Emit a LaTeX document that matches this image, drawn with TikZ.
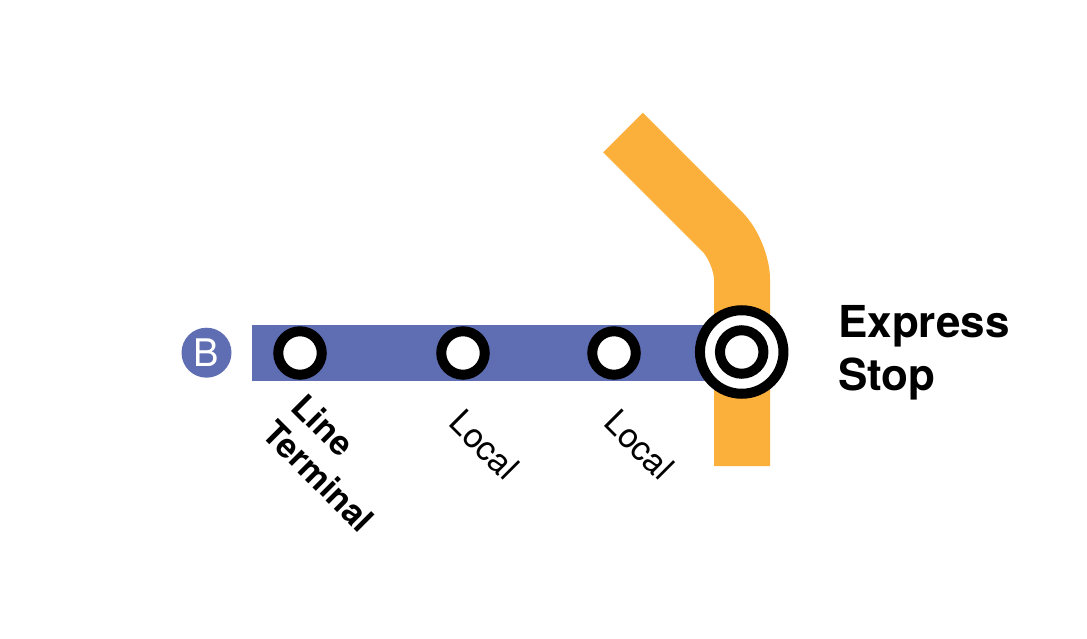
\documentclass[tikz,border=0pt]{standalone}
\usepackage{fontspec}
\setmainfont{TeX Gyre Heros}
\definecolor{lineblue}{HTML}{5F6EB3}
\definecolor{lineorange}{HTML}{FBB03B}
\tikzset{
  track/.style={line width=56pt,line cap=butt},
  ring/.style={circle,draw=black,fill=white,line width=10pt,minimum size=43.5pt,inner sep=0pt},
  lbl/.style={rotate=-45,inner sep=0pt,font=\fontsize{34}{34}\selectfont},
  blbl/.style={align=left,inner sep=0pt,font=\fontsize{44}{53}\selectfont\bfseries},
}
\begin{document}
\begin{tikzpicture}[x=1pt,y=-1pt]
\useasboundingbox (0,0) rectangle (1087,639);
\draw[track,lineorange,rounded corners=28pt] (623,132.5) -- (742,251.5) -- (742,466);
\draw[track,lineblue] (252,353) -- (725,353);
\node[circle,fill=lineblue,minimum size=50pt,inner sep=0pt,text=white,font=\fontsize{38}{38}\selectfont] (b) at (206.5,352.7) {B};
\node[ring] (s1) at (300,353) {};
\node[ring] (s2) at (463,353) {};
\node[ring] (s3) at (614,353) {};
\node[circle,draw=black,fill=white,line width=10pt,minimum size=83.5pt,inner sep=0pt] (e1) at (741.7,352) {};
\node[ring] (e2) at (741.7,352) {};
\node[lbl,font=\fontsize{34}{34}\selectfont\bfseries] (l1) at (323.5,425) {Line};
\node[lbl,font=\fontsize{34}{34}\selectfont\bfseries] (l2) at (319,476) {Terminal};
\node[lbl] (l3) at (484.5,445) {Local};
\node[lbl] (l4) at (639.5,445) {Local};
\node[blbl,anchor=west] (ex) at (838,352.5) {Express\\Stop};
\end{tikzpicture}
\end{document}
